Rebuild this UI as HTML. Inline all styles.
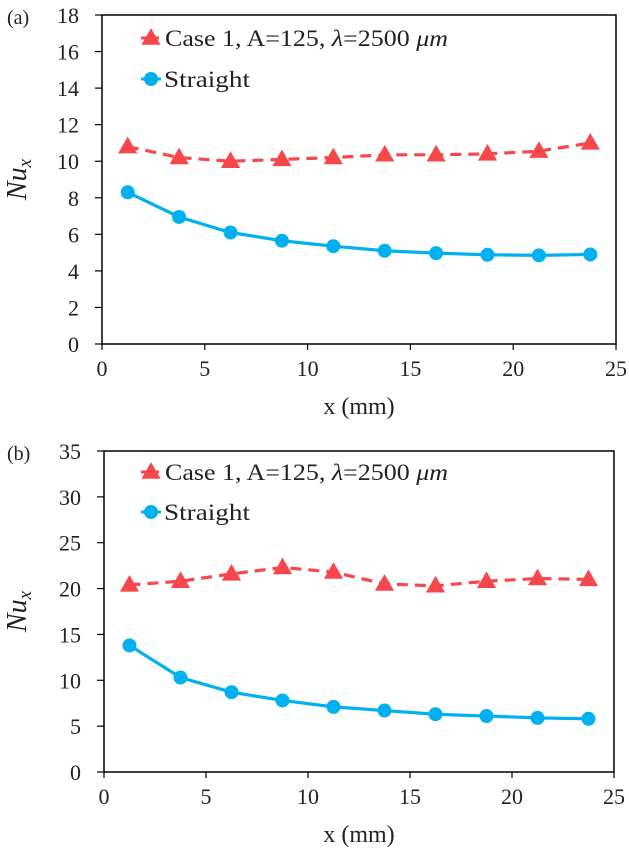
<!DOCTYPE html>
<html><head><meta charset="utf-8"><style>
html,body{margin:0;padding:0;background:#fff;}
svg{display:block;font-family:"Liberation Serif",serif;}
</style></head><body>
<svg id="fig" width="629" height="853" viewBox="0 0 629 853" xmlns="http://www.w3.org/2000/svg"></svg>
<script>
const xCats = [1.25,3.75,6.25,8.75,11.25,13.75,16.25,18.75,21.25,23.75];
const xTicks = [0,5,10,15,20,25];
const aCaseVals = [10.8,10.2,10.0,10.1,10.2,10.35,10.35,10.4,10.55,11.0];
const aStraightVals = [8.3,6.95,6.1,5.65,5.35,5.1,4.97,4.88,4.85,4.9];
const aYTicks = [0,2,4,6,8,10,12,14,16,18];
const bCaseVals = [20.4,20.8,21.6,22.3,21.8,20.5,20.3,20.8,21.1,21.0];
const bStraightVals = [13.8,10.3,8.7,7.8,7.1,6.7,6.3,6.1,5.9,5.8];
const bYTicks = [0,5,10,15,20,25,30,35];

const NS="http://www.w3.org/2000/svg";
const svg=document.getElementById('fig');
function mk(tag,attrs,parent){const e=document.createElementNS(NS,tag);for(const k in attrs)e.setAttribute(k,attrs[k]);(parent||svg).appendChild(e);return e;}
const RED="#f5474c", BLUE="#00b0f0";

function panel(p){
  const g=mk('g',{});
  
  
  const L=p.left,R=p.right,T=p.top,B=p.bottom;
  const xMax=25,yMax=p.yTicks[p.yTicks.length-1];
  const sx=v=>L+(v/xMax)*(R-L);
  const sy=v=>B-(v/yMax)*(B-T);
  const box=mk('rect',{x:L,y:T,width:R-L,height:B-T,fill:'none',stroke:'#000','stroke-width':1.5},g);
  
  
  p.yTicks.forEach(v=>{
    mk('line',{x1:L-7,x2:L,y1:sy(v),y2:sy(v),stroke:'#000','stroke-width':1.2},g);
    const t=mk('text',{x:L-23,y:sy(v)+8,'text-anchor':'end','font-size':22,fill:'#222'},g);
    t.textContent=v;
    
    
  });
  xTicks.forEach(v=>{
    mk('line',{x1:sx(v),x2:sx(v),y1:B,y2:B+6,stroke:'#000','stroke-width':1.2},g);
    const t=mk('text',{x:sx(v),y:B+32,'text-anchor':'middle','font-size':22,fill:'#222'},g);
    t.textContent=v;
    
    
  });
  const xt=mk('text',{x:(L+R)/2,y:B+70,'text-anchor':'middle','font-size':24,fill:'#222'},g);
  xt.textContent='x (mm)';
  
  
  const cy=(T+B)/2;
  const yt=mk('text',{x:0,y:0,'text-anchor':'middle','font-size':28,'font-style':'italic',fill:'#222',transform:`translate(26,${cy}) rotate(-90)`},g);
  yt.innerHTML='Nu<tspan font-size="19" dy="5">x</tspan>';
  
  
  const pl=mk('text',{x:7,y:T+9,'font-size':20,fill:'#222'},g);
  pl.textContent=p.label;
  
  
  const tri=(x,y,s)=>`${x},${y-s*0.62} ${x-s*0.6},${y+s*0.42} ${x+s*0.6},${y+s*0.42}`;
  const rl=mk('polyline',{points:xCats.map((x,i)=>sx(x)+','+sy(p.caseVals[i])).join(' '),fill:'none',stroke:RED,'stroke-width':3.2,'stroke-dasharray':'11,7'},g);
  
  
  xCats.forEach((x,i)=>{
    const m=mk('polygon',{points:tri(sx(x),sy(p.caseVals[i]),16),fill:RED},g);
    
    
  });
  const bl=mk('polyline',{points:xCats.map((x,i)=>sx(x)+','+sy(p.straightVals[i])).join(' '),fill:'none',stroke:BLUE,'stroke-width':3.2},g);
  
  
  xCats.forEach((x,i)=>{
    const m=mk('circle',{cx:sx(x),cy:sy(p.straightVals[i]),r:7,fill:BLUE},g);
    
    
  });
  const lg=mk('g',{},g);
  
  
  mk('line',{x1:141,x2:161,y1:p.leg1,y2:p.leg1,stroke:RED,'stroke-width':3,'stroke-dasharray':'7,4'},lg);
  mk('polygon',{points:tri(151,p.leg1,16),fill:RED},lg);
  const l1=mk('text',{x:165,y:p.leg1+8,'font-size':23,fill:'#222',textLength:283,lengthAdjust:'spacingAndGlyphs'},lg);
  l1.innerHTML='Case 1, A=125, <tspan font-style="italic">λ</tspan>=2500 <tspan font-style="italic">μm</tspan>';
  
  
  mk('line',{x1:141,x2:161,y1:p.leg2,y2:p.leg2,stroke:BLUE,'stroke-width':3},lg);
  mk('circle',{cx:151,cy:p.leg2,r:7,fill:BLUE},lg);
  const l2=mk('text',{x:164,y:p.leg2+8,'font-size':23,fill:'#222',textLength:86,lengthAdjust:'spacingAndGlyphs'},lg);
  l2.textContent='Straight';
  
  
}
panel({name:'panel-a',label:'(a)',left:102,right:616,top:15,bottom:344,yTicks:aYTicks,caseVals:aCaseVals,straightVals:aStraightVals,leg1:38,leg2:79});
panel({name:'panel-b',label:'(b)',left:104,right:614,top:451,bottom:772,yTicks:bYTicks,caseVals:bCaseVals,straightVals:bStraightVals,leg1:472,leg2:512});
</script>
</body></html>
